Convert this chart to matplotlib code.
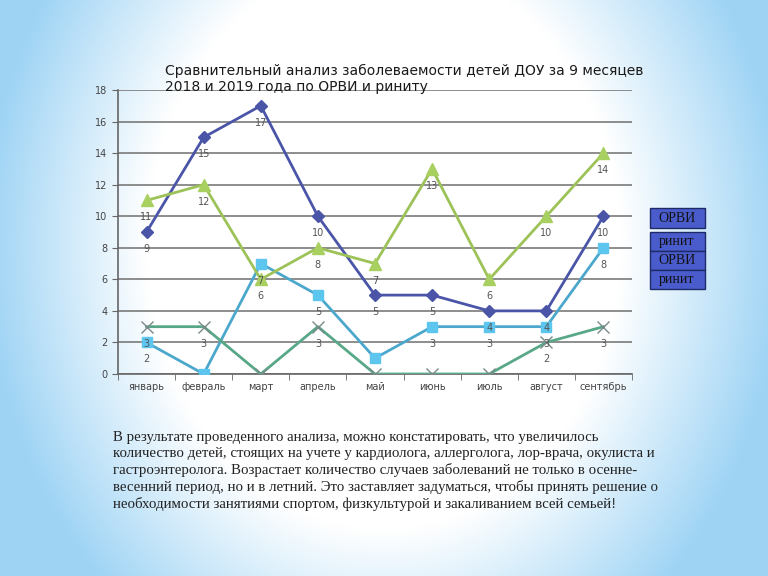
import matplotlib
matplotlib.use("Agg")
import matplotlib.pyplot as plt
from matplotlib.patches import Rectangle
import numpy as np

months = ["январь", "февраль", "март", "апрель", "май", "июнь", "июль", "август", "сентябрь"]
orvi_2018 = [9, 15, 17, 10, 5, 5, 4, 4, 10]
rinit_2018 = [2, 0, 7, 5, 1, 3, 3, 3, 8]
orvi_2019 = [11, 12, 6, 8, 7, 13, 6, 10, 14]
rinit_2019 = [3, 3, 0, 3, 0, 0, 0, 2, 3]
legend_labels = ["ОРВИ", "ринит", "ОРВИ", "ринит"]

title = ("Сравнительный анализ заболеваемости детей ДОУ за 9 месяцев\n"
         "2018 и 2019 года по ОРВИ и риниту")
body = ("В результате проведенного анализа, можно констатировать, что увеличилось\n"
        "количество детей, стоящих на учете у кардиолога, аллерголога, лор-врача, окулиста и\n"
        "гастроэнтеролога. Возрастает количество случаев заболеваний не только в осенне-\n"
        "весенний период, но и в летний. Это заставляет задуматься, чтобы принять решение о\n"
        "необходимости занятиями спортом, физкультурой и закаливанием всей семьей!")

fig = plt.figure(figsize=(7.68, 5.76), dpi=100)

# фон: голубой по бокам, белый в середине
bg = fig.add_axes([0, 0, 1, 1], zorder=-10)
yy, xx = np.mgrid[-1:1:300j, -1:1:400j]
r = np.sqrt((xx / 1.0) ** 2 + ((yy + 0.15) / 1.6) ** 2)
t = np.clip((r - 0.62) / 0.42, 0, 1)
white = np.array([1.0, 1.0, 1.0])
blue = np.array([0.62, 0.83, 0.96])
img = white[None, None, :] * (1 - t[..., None]) + blue[None, None, :] * t[..., None]
bg.imshow(img, aspect="auto", extent=[0, 1, 0, 1], interpolation="bilinear")
bg.axis("off")

ax = fig.add_axes([118 / 768, 1 - 374 / 576, 514 / 768, 284 / 576])
ax.set_facecolor("none")
x = np.arange(len(months))

series = [
    (orvi_2018, "#4a55a8", "D", "#4a55a8", 6),
    (rinit_2018, "#4ba8cc", "s", "#5cc6ee", 7),
    (orvi_2019, "#9cc258", "^", "#a8d060", 8),
    (rinit_2019, "#58a888", "x", "#7a8a8a", 8),
]
for vals, lc, mk, mc, ms in series:
    ax.plot(x, vals, color=lc, lw=2.0, marker=mk, markersize=ms,
            markerfacecolor=mc, markeredgecolor=mc, zorder=3)
    for xi, v in zip(x, vals):
        if v >= 2:
            ax.annotate(str(v), (xi, v), xytext=(0, -17), textcoords="offset pixels",
                        ha="center", va="center", fontsize=7, color="#555555", zorder=4)

ax.set_xlim(-0.5, 8.5)
ax.set_ylim(0, 18)
ax.set_yticks(range(0, 19, 2))
ax.set_xticks(x)
ax.set_xticklabels(months)
ax.set_xticks(np.arange(-0.5, 9, 1), minor=True)
ax.tick_params(axis="x", which="major", length=0, pad=6)
ax.tick_params(axis="x", which="minor", length=4, color="#666666")
ax.tick_params(axis="y", length=4, color="#666666")
ax.tick_params(labelsize=7, labelcolor="#444444")
ax.grid(axis="y", color="#7a7a7a", lw=1.2)
ax.set_axisbelow(True)
for side in ["top", "right"]:
    ax.spines[side].set_visible(False)
for side in ["left", "bottom"]:
    ax.spines[side].set_color("#666666")
    ax.spines[side].set_linewidth(1.2)

fig.text(165 / 768, 1 - 64 / 576, title, fontsize=10, color="#1a1a1a",
         va="top", ha="left", linespacing=1.2)

# легенда в виде синих плашек
box_y = [208, 232, 251, 270]
box_h = [20, 19, 19, 19]
for yb, hb, lab in zip(box_y, box_h, legend_labels):
    fig.patches.append(Rectangle((650 / 768, 1 - (yb + hb) / 576), 55 / 768, hb / 576,
                                 transform=fig.transFigure, facecolor="#4a5ccc",
                                 edgecolor="#1e2a66", lw=1))
    fig.text(677 / 768, 1 - (yb + hb / 2) / 576, lab, fontsize=10, color="#111111",
             ha="center", va="center", family="Liberation Serif")

fig.text(113 / 768, 1 - 431 / 576, body, fontsize=10.7, color="#222222",
         va="top", ha="left", family="Liberation Serif", linespacing=1.28)

fig.savefig("out.png", dpi=100)
